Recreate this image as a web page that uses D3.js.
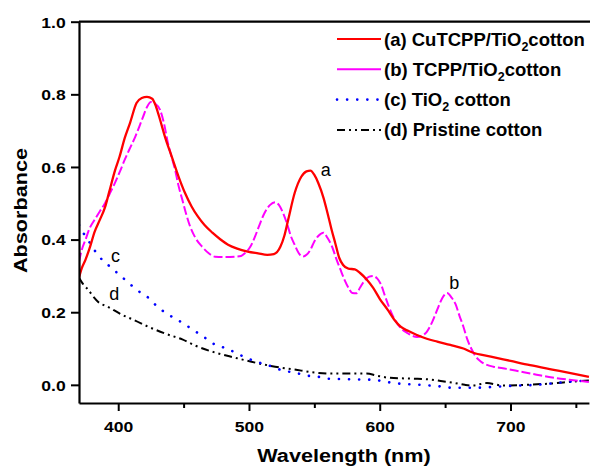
<!DOCTYPE html>
<html><head><meta charset="utf-8">
<script src="https://cdn.jsdelivr.net/npm/d3@7"></script>
<style>body{margin:0;background:#fff}svg text{font-family:Arial,"Liberation Sans",sans-serif}</style>
</head><body><svg id="c" width="590" height="466"></svg>
<script>
const seriesA = [[370,0.295],[372,0.32],[375,0.345],[378,0.375],[382,0.422],[386,0.455],[390,0.49],[393,0.53],[397.5,0.59],[401,0.628],[405,0.68],[409,0.721],[414,0.776],[418,0.79],[422,0.793],[426,0.788],[429,0.765],[432,0.73],[436,0.68],[441,0.628],[446,0.575],[451,0.529],[456,0.492],[461,0.463],[466,0.44],[472,0.419],[478,0.401],[484,0.386],[491,0.375],[499,0.367],[507,0.362],[514,0.358],[519,0.36],[524,0.38],[527,0.41],[530,0.455],[535,0.529],[540,0.573],[544,0.588],[547,0.59],[550,0.578],[553,0.556],[557,0.515],[560,0.474],[563,0.43],[566,0.39],[569,0.35],[572,0.33],[576,0.32],[581,0.318],[585,0.308],[590,0.29],[595,0.267],[600,0.237],[606,0.207],[611,0.18],[616,0.16],[622,0.148],[628,0.138],[636,0.127],[644,0.119],[654,0.11],[664,0.1],[671,0.089],[685,0.078],[700,0.066],[715,0.054],[732,0.042],[745,0.033],[760,0.022]];
const seriesB = [[370,0.339],[372,0.37],[375,0.4],[378,0.43],[382,0.455],[386,0.478],[390,0.501],[394,0.53],[397.5,0.556],[401,0.585],[405,0.62],[409,0.652],[413,0.683],[416,0.71],[419,0.738],[422,0.765],[425,0.779],[428,0.775],[432,0.757],[435,0.72],[438,0.666],[441,0.625],[443.5,0.592],[446,0.55],[449,0.51],[452,0.47],[455,0.436],[459,0.405],[464,0.381],[469,0.363],[474,0.353],[481,0.352],[489,0.353],[494,0.355],[497,0.363],[501,0.38],[504.6,0.408],[508,0.44],[512,0.474],[516,0.495],[520,0.503],[523,0.495],[526,0.474],[529,0.445],[532,0.41],[535,0.385],[538,0.363],[541,0.353],[544,0.358],[547,0.372],[550,0.395],[553,0.41],[557,0.419],[560,0.405],[563.5,0.381],[567,0.345],[570,0.317],[573,0.29],[576,0.268],[579,0.253],[582,0.252],[585,0.268],[588,0.285],[592,0.298],[595,0.3],[598,0.293],[601,0.276],[604,0.245],[607,0.215],[610,0.19],[613,0.171],[617,0.153],[621,0.143],[625,0.135],[628.5,0.132],[632,0.135],[636,0.146],[640,0.172],[644,0.207],[648,0.24],[651.5,0.253],[655,0.24],[658,0.222],[661,0.19],[664,0.16],[667,0.125],[670,0.1],[673,0.08],[677,0.065],[682,0.055],[687,0.05],[697,0.044],[707,0.037],[720,0.028],[732,0.02],[745,0.014],[760,0.008]];
const seriesC = [[370,0.44],[372,0.425],[375,0.41],[380,0.381],[385,0.355],[392,0.331],[399,0.309],[407,0.284],[414,0.262],[423,0.24],[430,0.215],[440,0.19],[449,0.171],[457,0.152],[465,0.133],[474,0.111],[483,0.1],[491,0.086],[499,0.073],[508,0.061],[518,0.05],[526,0.039],[535,0.034],[543,0.026],[552,0.023],[560,0.017],[570,0.016],[580,0.015],[595,0.014],[605,0.008],[613,0.004],[631,0.0],[645,-0.004],[656,-0.008],[671,-0.008],[685,-0.006],[694,-0.004],[707,-0.002],[720,0.0],[732,0.004],[743,0.008],[760,0.012]];
const seriesD = [[370,0.295],[373,0.278],[377,0.262],[381,0.243],[384.5,0.229],[392,0.215],[403,0.193],[413,0.177],[423,0.16],[436,0.141],[449,0.125],[459,0.108],[474,0.089],[489,0.075],[505,0.061],[520,0.05],[535,0.042],[550,0.034],[563,0.031],[575,0.031],[590,0.031],[598,0.025],[606,0.02],[625,0.017],[638,0.015],[648,0.01],[656,0.006],[665,0.0],[671,-0.002],[682,0.005],[694,-0.002],[712,0.0],[732,0.004],[748,0.009],[760,0.012]];
const xMajorTicks = [400,500,600,700];
const xMinorTicks = [450,550,650,750];
const yTicks = [0.0,0.2,0.4,0.6,0.8,1.0];
const legendItems = [
  {pre:"(a) CuTCPP/TiO", sub:"2", post:"cotton"},
  {pre:"(b) TCPP/TiO", sub:"2", post:"cotton"},
  {pre:"(c) TiO", sub:"2", post:" cotton"},
  {pre:"(d) Pristine cotton", sub:"", post:""}
];
const curveLabels = [
  {t:"a", wl:554.9, v:0.574},
  {t:"b", wl:653.2, v:0.264},
  {t:"c", wl:394.5, v:0.338},
  {t:"d", wl:393.2, v:0.235}
];

const styles = [
  {color:"#ff0000", dash:null, w:2.3, cap:"butt"},
  {color:"#ff00ff", dash:"9,3", w:2, cap:"butt"},
  {color:"#0000ff", dash:"0.1,10", w:2.6, cap:"round"},
  {color:"#000000", dash:"8,4,2,4,2,4", w:2, cap:"butt"}
];

const svg = d3.select("#c");
const L=79, T=21.7, B=403, R=590;
const SX = 1.17;
const x = d3.scaleLinear().domain([370,760]).range([L, L+390*1.3075]);
const y = d3.scaleLinear().domain([-0.05,1.0]).range([B, T]);

svg.append("defs").append("clipPath").attr("id","pc").append("rect")
  .attr("x",L).attr("y",T).attr("width",R-L).attr("height",B-T);

const line = d3.line().x(d=>x(d[0])).y(d=>y(d[1])).curve(d3.curveMonotoneX);
const g = svg.append("g").attr("clip-path","url(#pc)");
const allSeries = [seriesA, seriesB, seriesC, seriesD];
[3,2,1,0].forEach(i=>{
  const st = styles[i];
  g.append("path").attr("d", line(allSeries[i])).attr("fill","none")
    .attr("stroke", st.color).attr("stroke-width", st.w)
    .attr("stroke-linecap", st.cap).attr("stroke-dasharray", st.dash);
});

// axes
const xAxis = svg.append("g").attr("transform",`translate(0,${B})`)
  .call(d3.axisBottom(x).tickValues(xMajorTicks).tickSize(8).tickSizeOuter(0).tickFormat(d3.format("d")));
svg.append("g").attr("transform",`translate(0,${B})`)
  .call(d3.axisBottom(x).tickValues(xMinorTicks).tickSize(5).tickSizeOuter(0).tickFormat(""))
  .call(a=>a.select(".domain").remove())
  .selectAll("line").attr("stroke-width",2);
xAxis.select(".domain").attr("stroke-width",2.2);
xAxis.selectAll(".tick line").attr("stroke-width",2);
xAxis.selectAll("text").attr("font-size",15).attr("font-weight","bold")
  .attr("y",null).attr("dy",null).attr("transform",`translate(0,29) scale(${SX},1)`);

const yAxis = svg.append("g").attr("transform",`translate(${L},0)`)
  .call(d3.axisLeft(y).tickValues(yTicks).tickSize(8).tickSizeOuter(0).tickFormat(d3.format(".1f")));
yAxis.select(".domain").attr("stroke-width",2.2);
yAxis.selectAll(".tick line").attr("stroke-width",2);
yAxis.selectAll("text").attr("font-size",15).attr("font-weight","bold")
  .attr("x",null).attr("dy","0.36em").attr("transform",`translate(-13.3,0) scale(${SX},1)`);

svg.append("line").attr("x1",L).attr("x2",R).attr("y1",T).attr("y2",T)
  .attr("stroke","#000").attr("stroke-width",2.2);

// titles
svg.append("text").attr("transform",`translate(344,461.7) scale(${SX},1)`).attr("text-anchor","middle")
  .attr("font-size",18.5).attr("font-weight","bold").text("Wavelength (nm)");
svg.append("text").attr("transform",`translate(26.7,210.5) rotate(-90) scale(${SX},1)`).attr("text-anchor","middle")
  .attr("font-size",18.5).attr("font-weight","bold").text("Absorbance");

// legend
const lg = svg.append("g");
legendItems.forEach((it,i)=>{
  const yy = 39 + i*30.3;
  const st = styles[i];
  lg.append("line").attr("x1",337).attr("x2",381).attr("y1",yy).attr("y2",yy)
    .attr("stroke",st.color).attr("stroke-width",i===2?2.6:2)
    .attr("stroke-dasharray", i===1?null:st.dash)
    .attr("stroke-linecap", st.cap);
  const t = lg.append("text").attr("x",384).attr("y",yy+6.5).attr("font-size",18.5).attr("font-weight","bold");
  t.append("tspan").text(it.pre);
  if (it.sub) {
    t.append("tspan").attr("font-size",12.5).attr("dy",5).text(it.sub);
    t.append("tspan").attr("dy",-5).text(it.post);
  }
});

// curve labels
curveLabels.forEach(c=>{
  svg.append("text").attr("x",x(c.wl)).attr("y",y(c.v))
    .attr("font-size",18).text(c.t);
});
</script></body></html>
